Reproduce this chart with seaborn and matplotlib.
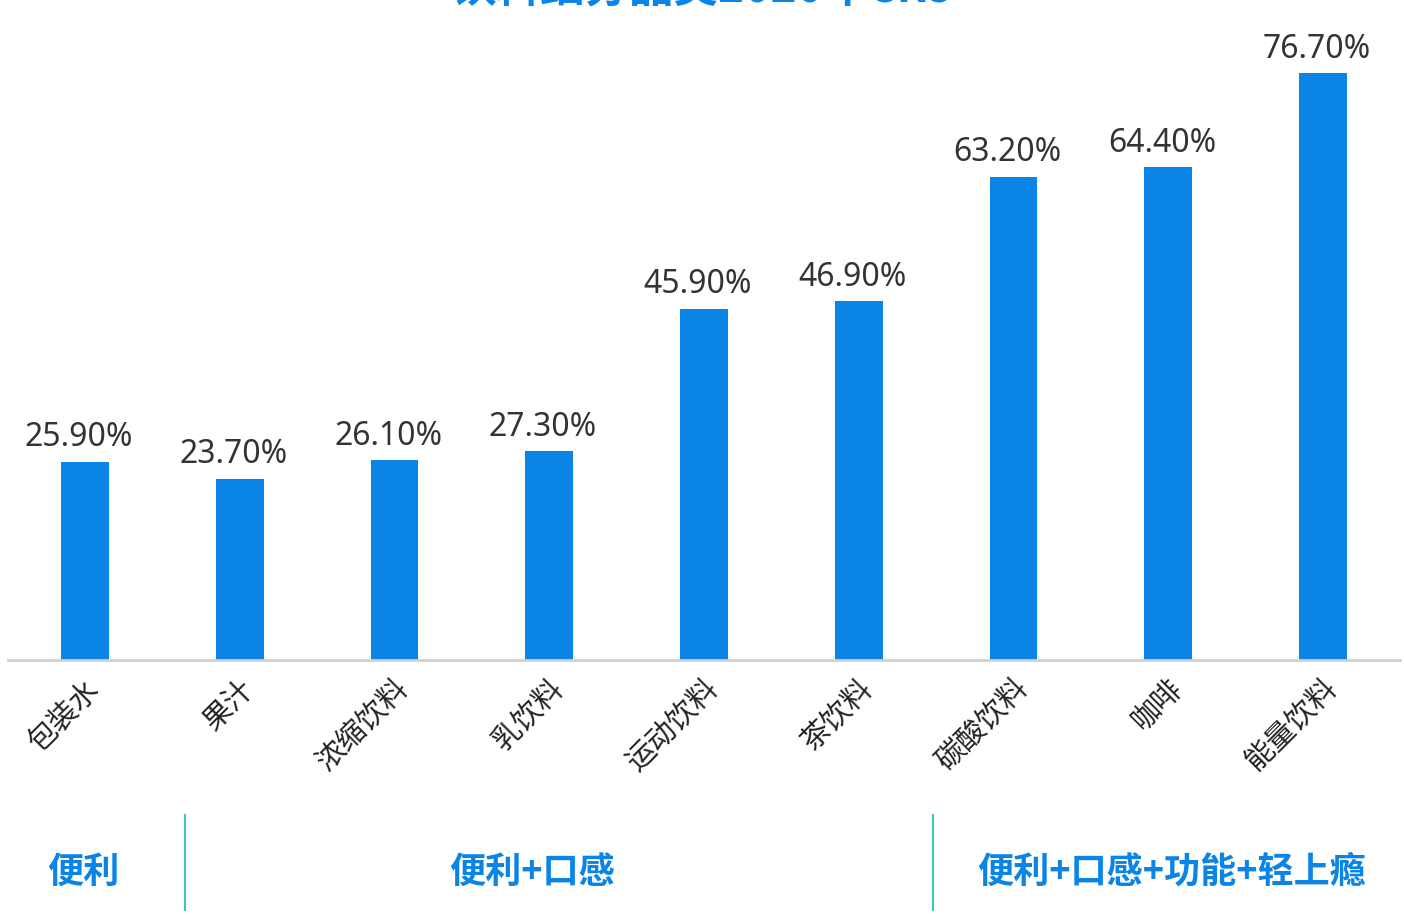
import matplotlib
matplotlib.use("Agg")
import matplotlib.pyplot as plt
import seaborn as sns
import pandas as pd

categories = ["包装水", "果汁", "浓缩饮料", "乳饮料", "运动饮料", "茶饮料", "碳酸饮料", "咖啡", "能量饮料"]
values = [25.9, 23.7, 26.1, 27.3, 45.9, 46.9, 63.2, 64.4, 76.7]
groups = ["便利", "便利+口感", "便利+口感+功能+轻上瘾"]
title = "饮料细分品类2020年CR5"

plt.rcParams["font.family"] = "Noto Sans CJK SC"
df = pd.DataFrame({"cat": categories, "val": values})
fig = plt.figure(figsize=(14.04, 9.18), dpi=100)
ax = fig.add_axes([8/1404, 258/918, 1392/1404, 660/918])
sns.barplot(data=df, x="cat", y="val", color="#0a84e6", width=0.31, ax=ax, saturation=1)
ax.set_xlim(-0.4976, 8.4976)
ax.set_ylim(0, 86.3)
for i, v in enumerate(values):
    ax.text(i - 0.04, v + 1.0, f"{v:.2f}%", ha="center", va="bottom", fontsize=23,
            color="#333333", family="Noto Sans")
for s in ["top", "right", "left"]:
    ax.spines[s].set_visible(False)
ax.spines["bottom"].set_color("#d0d0d0")
ax.spines["bottom"].set_linewidth(2)
ax.set_yticks([])
ax.set_xlabel(""); ax.set_ylabel("")
ax.tick_params(axis="x", length=0, pad=10)
ax.set_xticks(range(len(categories)))
ax.set_xticklabels(categories, rotation=45, ha="right", rotation_mode="anchor", fontsize=21, color="#222222")

for xp in [185, 933]:
    fig.add_artist(plt.Line2D([xp/1404, xp/1404], [1-910/918, 1-815/918], color="#3cc8b4", lw=1.5))
for xp, g in zip([83, 532, 1172], groups):
    fig.text(xp/1404, 1-872/918, g, ha="center", va="center", fontsize=26, fontweight="bold", color="#0a84e6")
fig.text(0.5, 1-(-12)/918, title, ha="center", va="center", fontsize=32, fontweight="bold", color="#0a84e6")
fig.savefig("out.png", dpi=100)
